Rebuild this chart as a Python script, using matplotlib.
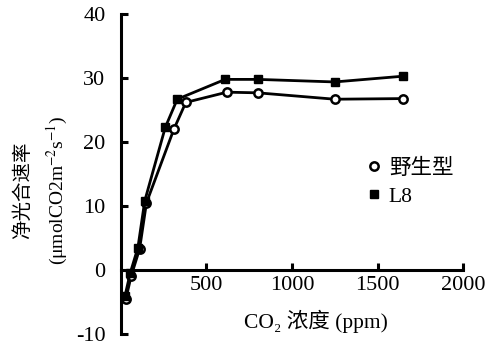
import numpy as np
import matplotlib
matplotlib.use('Agg')
import matplotlib.pyplot as plt

plt.rcParams['font.family'] = ['Liberation Serif', 'Noto Sans CJK SC']
plt.rcParams['mathtext.fontset'] = 'stix'
plt.rcParams['axes.unicode_minus'] = False

# 野生型 (open circles)
wt_x = [30, 60, 110, 150, 310, 380, 620, 800, 1250, 1650]
wt_y = [-4.5, -1.0, 3.3, 10.5, 22.0, 26.2, 27.8, 27.7, 26.7, 26.8]
# L8 (filled)
l8_x = [25, 55, 100, 140, 260, 330, 610, 800, 1250, 1650]
l8_y = [-4.0, -0.5, 3.5, 10.8, 22.3, 26.7, 29.8, 29.8, 29.4, 30.3]

xticks = [500, 1000, 1500, 2000]
yticks = [-10, 0, 10, 20, 30, 40]

fig = plt.figure(figsize=(4.89, 3.45), dpi=100)
ax = fig.add_axes([0.247, 0.032, 0.700, 0.927])

ax.plot(wt_x, wt_y, color='black', lw=2.0, marker='o', ms=6,
        mfc='white', mec='black', mew=1.8, label='野生型', zorder=3)
ax.plot(l8_x, l8_y, color='black', lw=2.0, marker='s', ms=6,
        mfc='black', mec='black', label='L8', zorder=4)

ax.set_xlim(0, 2000)
ax.set_ylim(-10, 40)
ax.set_xticks(xticks)
ax.set_yticks(yticks)
ax.spines['top'].set_visible(False)
ax.spines['right'].set_visible(False)
ax.spines['bottom'].set_position(('data', 0))
ax.spines['left'].set_linewidth(2.2)
ax.spines['bottom'].set_linewidth(2.2)
ax.tick_params(axis='both', direction='in', length=5, width=2.2, labelsize=16, colors='black')
ax.tick_params(axis='x', pad=4)
ax.tick_params(axis='y', pad=11)

ax.text(-0.287, 0.45, '净光合速率', transform=ax.transAxes, rotation=90,
        ha='center', va='center', fontsize=14)
ax.text(-0.184, 0.45, '(μmolCO2m$^{-2}$s$^{-1}$)', transform=ax.transAxes, rotation=90,
        ha='center', va='center', fontsize=14)
ax.text(0.57, 0.04, 'CO₂ 浓度 (ppm)', transform=ax.transAxes,
        ha='center', va='center', fontsize=15.5)

leg = ax.legend(loc='center left', bbox_to_anchor=(0.664, 0.473), frameon=False,
                handlelength=0.6, handletextpad=0.39, labelspacing=0.35, fontsize=15.5)
for h in leg.legend_handles:
    h.set_linestyle('None')

fig.savefig('out.png', dpi=100)
